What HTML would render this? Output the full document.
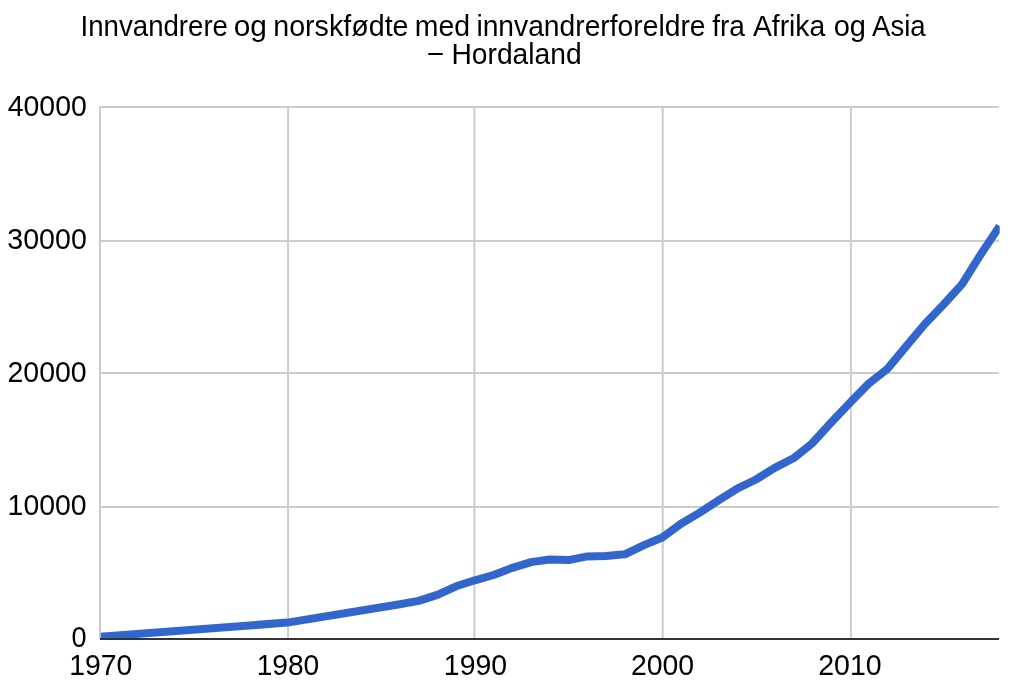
<!DOCTYPE html>
<html lang="no"><head><meta charset="utf-8"><title>Innvandrere og norskfødte med innvandrerforeldre fra Afrika og Asia – Hordaland</title>
<style>
html,body{margin:0;padding:0;background:#fff;width:1011px;height:688px;overflow:hidden}
svg{display:block}
svg{will-change:transform}
</style></head><body>
<svg width="1011" height="688" viewBox="0 0 1011 688">
<rect x="0" y="0" width="1011" height="688" fill="#ffffff"/>
<defs><clipPath id="ca"><rect x="100.8" y="100" width="898.9" height="539"/></clipPath></defs>
<rect x="99.8" y="106.00" width="899.2" height="2" fill="#cccccc"/>
<rect x="99.8" y="240.00" width="899.2" height="2" fill="#cccccc"/>
<rect x="99.8" y="372.00" width="899.2" height="2" fill="#cccccc"/>
<rect x="99.8" y="506.00" width="899.2" height="2" fill="#cccccc"/>
<rect x="99.00" y="106.8" width="2" height="532.2" fill="#cccccc"/>
<rect x="287.10" y="106.8" width="2" height="532.2" fill="#cccccc"/>
<rect x="473.40" y="106.8" width="2" height="532.2" fill="#cccccc"/>
<rect x="661.70" y="106.8" width="2" height="532.2" fill="#cccccc"/>
<rect x="849.90" y="106.8" width="2" height="532.2" fill="#cccccc"/>
<path d="M100.00,636.70 L287.42,622.60 L399.87,604.30 L418.61,600.90 L437.36,594.90 L456.10,586.30 L474.84,580.30 L493.58,575.00 L512.32,567.80 L531.07,562.10 L549.81,559.50 L568.55,560.10 L587.29,556.40 L606.03,555.90 L624.78,554.30 L643.52,545.40 L662.26,537.50 L681.00,523.70 L699.74,512.60 L718.49,500.40 L737.23,488.60 L755.97,479.50 L774.71,467.90 L793.45,458.30 L812.20,443.30 L830.94,422.80 L849.68,403.00 L868.42,383.90 L887.16,369.10 L905.91,346.60 L924.65,324.30 L943.39,304.70 L962.13,284.10 L980.87,254.20 L999.62,226.10" fill="none" stroke="#3366cc" stroke-width="8.0" stroke-linejoin="round" stroke-linecap="butt" clip-path="url(#ca)"/>
<rect x="100" y="638" width="899" height="2" fill="#333333"/>
<g font-family='"Liberation Sans", Arial, sans-serif' fill="#000000" class="txt">
<text id="y40000" x="7.72" y="115.70" font-size="29.50" textLength="79.09" lengthAdjust="spacingAndGlyphs">40000</text>
<text id="y30000" x="7.32" y="249.20" font-size="29.50" textLength="79.51" lengthAdjust="spacingAndGlyphs">30000</text>
<text id="y20000" x="7.46" y="381.90" font-size="29.50" textLength="79.22" lengthAdjust="spacingAndGlyphs">20000</text>
<text id="y10000" x="7.59" y="515.20" font-size="29.50" textLength="79.12" lengthAdjust="spacingAndGlyphs">10000</text>
<text id="y0" x="71.47" y="647.00" font-size="29.50" textLength="15.06" lengthAdjust="spacingAndGlyphs">0</text>
<text id="x1970" x="69.13" y="675.00" font-size="29.50" textLength="63.14" lengthAdjust="spacingAndGlyphs">1970</text>
<text id="x1980" x="256.67" y="675.00" font-size="29.50" textLength="62.63" lengthAdjust="spacingAndGlyphs">1980</text>
<text id="x1990" x="443.85" y="675.00" font-size="29.50" textLength="63.27" lengthAdjust="spacingAndGlyphs">1990</text>
<text id="x2000" x="630.95" y="675.00" font-size="29.50" textLength="63.26" lengthAdjust="spacingAndGlyphs">2000</text>
<text id="x2010" x="818.19" y="675.00" font-size="29.50" textLength="63.46" lengthAdjust="spacingAndGlyphs">2010</text>
<text id="t1" y="35.90" font-size="29.50"><tspan x="80.57" textLength="147.41" lengthAdjust="spacingAndGlyphs">Innvandrere</tspan> <tspan x="233.67" textLength="33.21" lengthAdjust="spacingAndGlyphs">og</tspan> <tspan x="273.22" textLength="135.35" lengthAdjust="spacingAndGlyphs">norskfødte</tspan> <tspan x="414.80" textLength="55.30" lengthAdjust="spacingAndGlyphs">med</tspan> <tspan x="476.39" textLength="229.13" lengthAdjust="spacingAndGlyphs">innvandrerforeldre</tspan> <tspan x="712.23" textLength="32.72" lengthAdjust="spacingAndGlyphs">fra</tspan> <tspan x="752.98" textLength="72.24" lengthAdjust="spacingAndGlyphs">Afrika</tspan> <tspan x="833.70" textLength="32.27" lengthAdjust="spacingAndGlyphs">og</tspan> <tspan x="872.08" textLength="53.60" lengthAdjust="spacingAndGlyphs">Asia</tspan></text>
<text id="t2" font-size="29.50"><tspan x="428.36" y="61.80" textLength="14.57" lengthAdjust="spacingAndGlyphs">–</tspan> <tspan x="451.49" y="63.80" textLength="130.09" lengthAdjust="spacingAndGlyphs">Hordaland</tspan></text>
</g>
</svg>
</body></html>
